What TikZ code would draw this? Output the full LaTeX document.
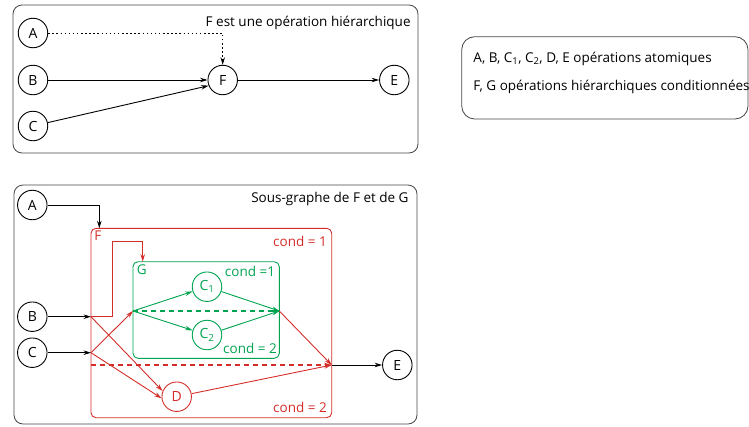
\documentclass[tikz,border=0pt]{standalone}
\usepackage{fontspec}
\setmainfont{Open Sans}
\usetikzlibrary{arrows.meta}
\definecolor{condred}{RGB}{212,46,42}
\definecolor{condgreen}{RGB}{0,163,80}
\definecolor{framegray}{RGB}{70,70,70}
\tikzset{
  op/.style={circle, draw, minimum size=29.5pt, inner sep=0pt, font=\fontsize{14}{14}\selectfont},
  link/.style={-{Stealth[length=7.5pt,width=4.5pt]}},
  frame/.style={draw=framegray, rounded corners=9pt, line width=0.8pt},
  tag/.style={inner sep=0pt, font=\fontsize{13.5}{13.5}\selectfont},
  redflow/.style={draw=condred, text=condred},
  greenflow/.style={draw=condgreen, text=condgreen},
  condline/.style={dash pattern=on 5pt off 4pt, line width=1.1pt},
}

\begin{document}
\begin{tikzpicture}[x=1pt, y=-1pt, line width=0.9pt]
  \useasboundingbox (0,0) rectangle (749,426);

  % Vue du haut
  \draw[frame] (13,5) rectangle (418,153);
  \node[tag, anchor=east] (titreF) at (411,23) {F est une opération hiérarchique};
  \node[op] (A) at (33,33) {A};
  \node[op] (B) at (33,80) {B};
  \node[op] (C) at (33,126) {C};
  \node[op] (F) at (222.7,80) {F};
  \node[op] (E) at (394.3,80) {E};
  \draw[link, dash pattern=on 1.5pt off 2.6pt] (A) -| (F);
  \draw[link] (B) -- (F);
  \draw[link] (C) -- (F.202);
  \draw[link] (F) -- (E);

  % Légende
  \draw[frame, rounded corners=13pt] (461.7,36.7) rectangle (748,119);
  \node[tag, anchor=west] (atom) at (473,58.5)
    {A, B, C\textsubscript{1}, C\textsubscript{2}, D, E opérations atomiques};
  \node[tag, anchor=west] (hier) at (473,87)
    {F, G opérations hiérarchiques conditionnées};

  % Sous-graphe
  \draw[frame] (14,185) rectangle (417,424);
  \node[tag, anchor=east] (titreSG) at (409,199) {Sous-graphe de F et de G};
  \node[op] (bA) at (32.3,205) {A};
  \node[op] (bB) at (32.3,316.7) {B};
  \node[op] (bC) at (32.3,352.7) {C};
  \node[op] (bE) at (397.3,365) {E};

  % F
  \begin{scope}[redflow]
    \draw[rounded corners=5pt] (91,228.3) rectangle (331.7,417.7);
    \node[tag, anchor=north west] (labF) at (94,230) {F};
    \node[tag] (condF1) at (300,241) {cond = 1};
    \node[tag] (condF2) at (300,407) {cond = 2};
    \node[op, redflow] (D) at (176.7,396.7) {D};
    \coordinate (FinA) at (99.3,228.3);
    \coordinate (FinB) at (91,316.7);
    \coordinate (FinC) at (91,352.7);
    \coordinate (Fdash) at (91,365);
    \coordinate (Fjoin) at (331.7,365);
    \coordinate (hop) at (112.7,241.7);
  \end{scope}

  % G
  \begin{scope}[greenflow]
    \draw[rounded corners=5pt] (133,261.7) rectangle (279.3,358.3);
    \node[tag, anchor=north west] (labG) at (136.5,264.5) {G};
    \node[tag] (condG1) at (250,271) {cond =1};
    \node[tag] (condG2) at (250,348) {cond = 2};
    \node[op, greenflow] (Cone) at (207,286.7) {C\textsubscript{1}};
    \node[op, greenflow] (Ctwo) at (207,335) {C\textsubscript{2}};
    \coordinate (Gtop) at (142.7,261.7);
    \coordinate (Gfork) at (133,311);
    \coordinate (Gjoin) at (279.3,311);
    \draw[link, greenflow] (Gfork) -- (Cone);
    \draw[link, greenflow] (Gfork) -- (Ctwo);
    \draw[condline, color=condgreen] (Gfork) -- (Gjoin);
    \draw[link, greenflow] (Cone) -- (Gjoin);
    \draw[link, greenflow] (Ctwo) -- (Gjoin);
  \end{scope}

  % Flots
  \draw[link] (bA) -| (FinA);
  \draw[link] (bB) -- (FinB);
  \draw[link] (bC) -- (FinC);
  \begin{scope}[redflow]
    \draw[link, redflow] (FinB) -| (hop) -| (Gtop);
    \draw[link, redflow] (FinB) -- (D.158);
    \draw[link, redflow] (FinC) -- (Gfork);
    \draw[link, redflow] (FinC) -- (D.186);
    \draw[link, condline, color=condred] (Fdash) -- (Fjoin);
    \draw[link, redflow] (Gjoin) -- (Fjoin);
    \draw[link, redflow] (D) -- (Fjoin);
  \end{scope}
  \draw[link] (Fjoin) -- (bE);
\end{tikzpicture}
\end{document}
